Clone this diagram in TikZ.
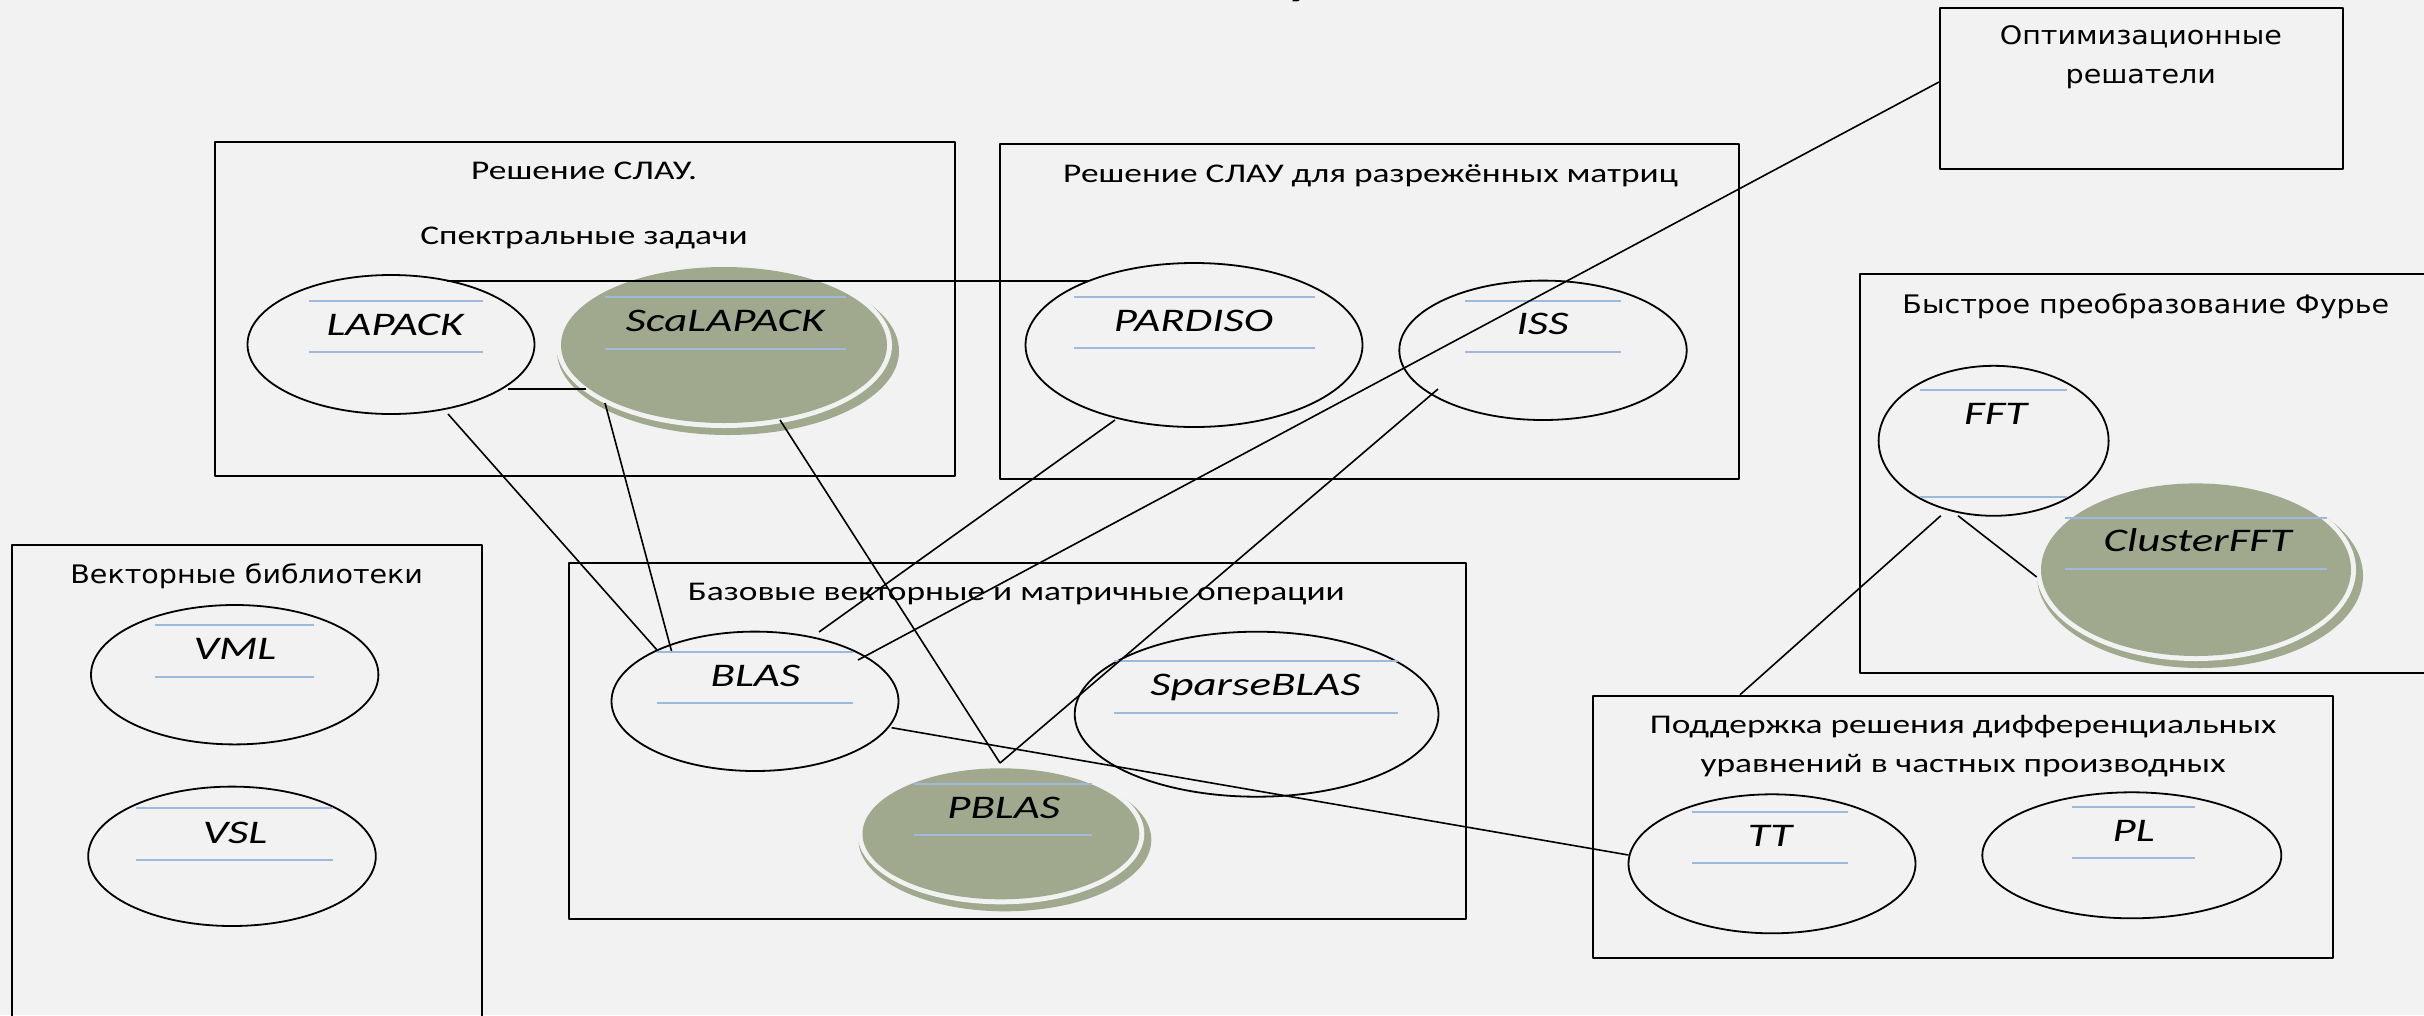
\documentclass[tikz,border=0pt]{standalone}
\usepackage{fontspec}
\usetikzlibrary{shapes.geometric}
\setmainfont{Carlito}[FakeStretch=1.36]
\newfontfamily\titlefont{Carlito}[FakeStretch=1.31]
\newfontfamily\widesans{DejaVu Sans}[FakeStretch=1.12]
\definecolor{bg}{HTML}{F2F2F2}
\definecolor{sage}{HTML}{A0A98E}
\definecolor{ruleblue}{HTML}{9DB9DE}

% shaded library: offset shadow, light ring, filled ellipse node
\newcommand\sageellipse[5]{%
  \fill[sage] ({#2+4},{#3+6}) ellipse [x radius={#4/2+8}, y radius={#5/2+6}];
  \fill[bg] (#2,#3) ellipse [x radius={#4/2+5}, y radius={#5/2+5}];
  \node[parlib, minimum width=#4pt, minimum height=#5pt] (#1) at (#2,#3) {};
}

\begin{document}
\begin{tikzpicture}[x=1pt, y=-1pt, line join=round,
  grp/.style={draw, line width=2pt, inner sep=0pt},
  lib/.style={ellipse, draw, line width=1.8pt, inner sep=0pt},
  parlib/.style={ellipse, fill=sage, inner sep=0pt},
  lbl/.style={font=\fontsize{33}{36}\selectfont\itshape, inner sep=0pt, anchor=base},
  ttl/.style={font=\titlefont\fontsize{27}{30}\selectfont, inner sep=0pt, anchor=base},
  vttl/.style={font=\widesans\fontsize{25.5}{28}\selectfont, inner sep=0pt, anchor=base},
  rule/.style={draw=ruleblue, line width=2pt},
  link/.style={draw, line width=1.6pt}]

\useasboundingbox (0,0) rectangle (2424,1015);
\fill[bg] (0,0) rectangle (2424,1015);

% heading, mostly above the page
\node[font=\fontsize{40}{40}\selectfont\bfseries, anchor=base, inner sep=0pt] (head) at (1300,-5) {у};

% groups
\node[grp, minimum width=740.2pt, minimum height=333.7pt] (slau) at (584.6,309.15) {};
\node[grp, minimum width=739.7pt, minimum height=335pt] (sparse) at (1369.55,311.5) {};
\node[grp, minimum width=402.8pt, minimum height=161pt] (opt) at (2141.4,88.2) {};
\node[grp, minimum width=580pt, minimum height=399pt] (fourier) at (2150,473.8) {};
\node[grp, minimum width=469.4pt, minimum height=485pt] (vect) at (247,787.5) {};
\node[grp, minimum width=896.7pt, minimum height=356.3pt] (base) at (1017.15,740.85) {};
\node[grp, minimum width=739.8pt, minimum height=262.6pt] (pde) at (1962.9,827) {};

% group titles
\node[ttl] (slau-t1) at (584,179.3) {Решение СЛАУ.};
\node[ttl] (slau-t2) at (584,244.3) {Спектральные задачи};
\node[ttl] (sparse-t) at (1370.5,182.3) {Решение СЛАУ для разрежённых матриц};
\node[ttl] (base-t) at (1016.3,600) {Базовые векторные и матричные операции};
\node[ttl] (pde-t1) at (1963,733.3) {Поддержка решения дифференциальных};
\node[ttl] (pde-t2) at (1963,772.7) {уравнений в частных производных};
\node[vttl] (opt-t1) at (2140.8,44.3) {Оптимизационные};
\node[vttl] (opt-t2) at (2140.8,83.3) {решатели};
\node[vttl] (fourier-t) at (2145.8,313.3) {Быстрое преобразование Фурье};
\node[vttl] (vect-t) at (246.7,583.3) {Векторные библиотеки};

% parallel libraries
\sageellipse{scalapack}{724}{345}{326}{156}
\sageellipse{cfft}{2196}{569.7}{310}{172.6}
\sageellipse{pblas}{1000.9}{833.8}{276.8}{131}

% serial libraries
\node[lib, minimum width=287pt, minimum height=139pt] (lapack) at (391,344.5) {};
\node[lib, minimum width=337pt, minimum height=164pt] (pardiso) at (1194,345) {};
\node[lib, minimum width=287.4pt, minimum height=139.4pt] (iss) at (1543,350.3) {};
\node[lib, minimum width=230pt, minimum height=150pt] (fft) at (1993.6,440.8) {};
\node[lib, minimum width=287.4pt, minimum height=139.4pt] (vml) at (234.7,674.7) {};
\node[lib, minimum width=287.6pt, minimum height=139.4pt] (vsl) at (232,856.3) {};
\node[lib, minimum width=287pt, minimum height=139.4pt] (blas) at (755,701.3) {};
\node[lib, minimum width=363.8pt, minimum height=165pt] (sblas) at (1256.6,714.2) {};
\node[lib, minimum width=287pt, minimum height=139pt] (tt) at (1772,863.8) {};
\node[lib, minimum width=299pt, minimum height=126pt] (pl) at (2131.8,855.3) {};

% rules above and below each library name
\draw[rule] (309,301) -- (482.6,301) (309,351.7) -- (482.6,351.7);
\draw[rule] (605,296.7) -- (845.7,296.7) (605,349) -- (845.7,349);
\draw[rule] (1074,296.7) -- (1314.8,296.7) (1074,348) -- (1314.8,348);
\draw[rule] (1465,301) -- (1621,301) (1465,351.7) -- (1621,351.7);
\draw[rule] (1919.5,390) -- (2066.7,390) (1919.5,496.7) -- (2066.7,496.7);
\draw[rule] (2064.9,517.7) -- (2327,517.7) (2064.9,569.3) -- (2327,569.3);
\draw[rule] (155,625) -- (313.7,625) (155,676.7) -- (313.7,676.7);
\draw[rule] (136,807.7) -- (332.7,807.7) (136,860) -- (332.7,860);
\draw[rule] (656.8,651.7) -- (853.4,651.7) (656.8,702.7) -- (853.4,702.7);
\draw[rule] (1114,660.7) -- (1398,660.7) (1114,712.7) -- (1398,712.7);
\draw[rule] (913.9,783.7) -- (1091.8,783.7) (913.9,835) -- (1091.8,835);
\draw[rule] (1691.5,811.7) -- (1847.6,811.7) (1691.5,862.7) -- (1847.6,862.7);
\draw[rule] (2072,806.7) -- (2194.6,806.7) (2072,857.7) -- (2194.6,857.7);

% library names
\node[lbl] (lapack-t) at (395,335.5) {LAPACK};
\node[lbl] (scalapack-t) at (725,331) {ScaLAPACK};
\node[lbl] (pardiso-t) at (1193.6,331) {PARDISO};
\node[lbl] (iss-t) at (1542.6,334) {ISS};
\node[lbl] (fft-t) at (1995.7,424) {FFT};
\node[lbl] (cfft-t) at (2197.7,551.7) {ClusterFFT};
\node[lbl] (vml-t) at (235,659.3) {VML};
\node[lbl] (vsl-t) at (235,843.3) {VSL};
\node[lbl] (blas-t) at (755.4,686.7) {BLAS};
\node[lbl] (sblas-t) at (1255.4,695.7) {SparseBLAS};
\node[lbl] (pblas-t) at (1003.7,818.7) {PBLAS};
\node[lbl] (tt-t) at (1770,846.7) {TT};
\node[lbl] (pl-t) at (2133.6,841.7) {PL};

% dependencies
\draw[link] ([shift={(56,-63.5)}]lapack.center) -- ([shift={(-105,-64)}]pardiso.center);
\draw[link] ([shift={(117,44.5)}]lapack.center) -- ([shift={(-138,44)}]scalapack.center);
\draw[link] ([shift={(57,69.5)}]lapack.center) -- ([shift={(-98,-51.3)}]blas.center);
\draw[link] ([shift={(-119,58)}]scalapack.center) -- ([shift={(-83.5,-50.3)}]blas.center);
\draw[link] ([shift={(56,75)}]scalapack.center) -- ([shift={(-0.9,-70.8)}]pblas.center);
\draw[link] ([shift={(-79,75)}]pardiso.center) -- ([shift={(64,-69.3)}]blas.center);
\draw[link] ([shift={(0,-6.2)}]opt.west) -- ([shift={(103,-41.3)}]blas.center);
\draw[link] ([shift={(-105,38.7)}]iss.center) -- ([shift={(-0.9,-70.8)}]pblas.center);
\draw[link] ([shift={(136.6,26.4)}]blas.center) -- ([shift={(-143.5,-8.8)}]tt.center);
\draw[link] ([shift={(-52.8,74.9)}]fft.center) -- ([shift={(-222.9,0)}]pde.north);
\draw[link] ([shift={(-35.6,74.9)}]fft.center) -- ([shift={(-159.3,7.3)}]cfft.center);
\end{tikzpicture}
\end{document}
